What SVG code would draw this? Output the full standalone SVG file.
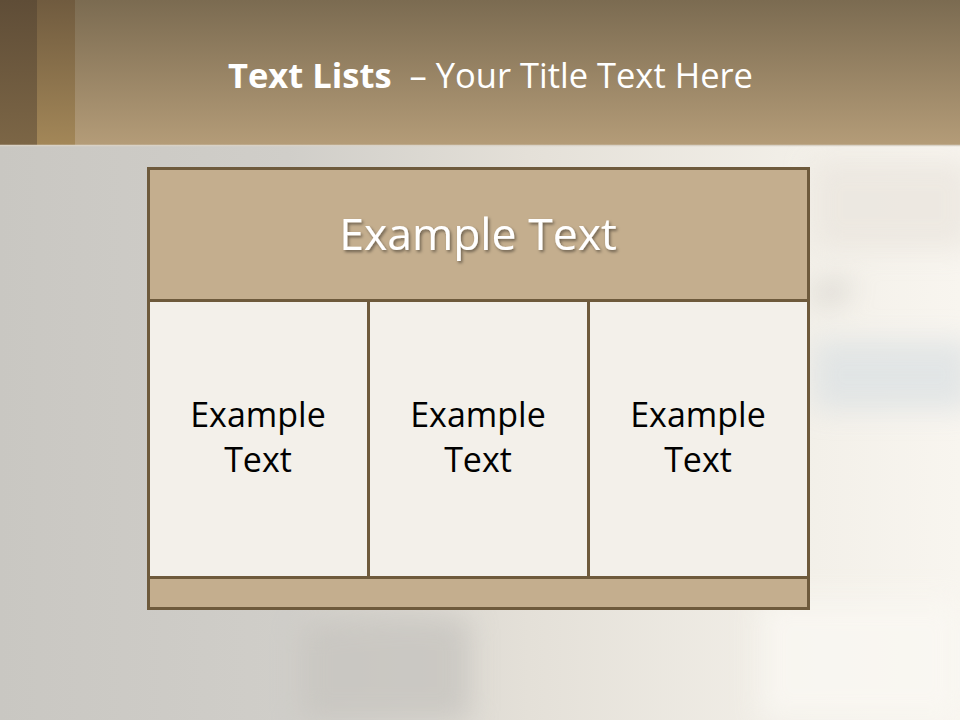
<svg xmlns="http://www.w3.org/2000/svg" width="960" height="720" viewBox="0 0 960 720">
<defs>
<linearGradient id="bg" x1="0" y1="0" x2="1" y2="0">
<stop offset="0" stop-color="#c9c7c2"/><stop offset="0.3" stop-color="#d0cec9"/><stop offset="0.55" stop-color="#e4e0d8"/><stop offset="0.85" stop-color="#f3f0e9"/><stop offset="1" stop-color="#f8f5ef"/>
</linearGradient>
<linearGradient id="hdr" x1="0" y1="0" x2="0" y2="1">
<stop offset="0" stop-color="#7b6b51"/><stop offset="1" stop-color="#b49c78"/>
</linearGradient>
<linearGradient id="s1" x1="0" y1="0" x2="0" y2="1">
<stop offset="0" stop-color="#5f4d37"/><stop offset="1" stop-color="#7c6646"/>
</linearGradient>
<linearGradient id="s2" x1="0" y1="0" x2="0" y2="1">
<stop offset="0" stop-color="#705b3f"/><stop offset="1" stop-color="#a38758"/>
</linearGradient>
<filter id="blur" x="-50%" y="-50%" width="200%" height="200%"><feGaussianBlur stdDeviation="14"/></filter>
<filter id="sh" x="-10%" y="-10%" width="120%" height="130%"><feDropShadow dx="1.5" dy="2" stdDeviation="1.5" flood-color="#000" flood-opacity="0.45"/></filter>
<style>
.cell{fill:#f3f0ea;stroke:#6e5a3c;stroke-width:3}
.band{fill:#c4ae8e;stroke:#6e5a3c;stroke-width:3}
.ct{font-family:"Open Sans","Noto Sans",sans-serif;font-size:34px;fill:#000;text-anchor:middle}
</style>
</defs>
<rect width="960" height="720" fill="url(#bg)"/>
<g filter="url(#blur)" opacity="0.8">
<rect x="812" y="340" width="160" height="70" fill="#dde2e4"/>
<rect x="812" y="160" width="160" height="90" fill="#ebe6df"/>
<path d="M812 290 L850 280 L845 298 L812 302 Z" fill="#c8c5c0"/>
<path d="M300 625 Q400 610 470 620 L470 720 L300 720 Z" fill="#c7c5c0"/>
<rect x="760" y="600" width="200" height="120" fill="#faf8f3"/>
</g>
<rect x="0" y="0" width="960" height="145" fill="url(#hdr)"/>
<rect x="0" y="0" width="37" height="145" fill="url(#s1)"/>
<rect x="37" y="0" width="38" height="145" fill="url(#s2)"/>
<line x1="0" y1="145.5" x2="960" y2="145.5" stroke="#d9d2c6" stroke-width="1.5"/>
<g id="title">
<text x="228" y="88" font-family="'Open Sans','Noto Sans',sans-serif" font-size="34.5" fill="#fff"><tspan font-weight="bold">Text Lists</tspan><tspan xml:space="preserve">  – Your Title Text Here</tspan></text>
</g>
<g id="header">
<rect class="band" x="148.5" y="168.5" width="660" height="132"/>
<text x="478" y="250" font-family="'Open Sans','Noto Sans',sans-serif" font-size="44.5" fill="#fff" text-anchor="middle" filter="url(#sh)">Example Text</text>
</g>
<g id="cell1">
<rect class="cell" x="148.5" y="300.5" width="220" height="277"/>
<text class="ct" x="258" y="427">Example</text>
<text class="ct" x="258" y="472">Text</text>
</g>
<g id="cell2">
<rect class="cell" x="368.5" y="300.5" width="220" height="277"/>
<text class="ct" x="478" y="427">Example</text>
<text class="ct" x="478" y="472">Text</text>
</g>
<g id="cell3">
<rect class="cell" x="588.5" y="300.5" width="220" height="277"/>
<text class="ct" x="698" y="427">Example</text>
<text class="ct" x="698" y="472">Text</text>
</g>
<g id="footer">
<rect class="band" x="148.5" y="577.5" width="660" height="31"/>
</g>
</svg>
